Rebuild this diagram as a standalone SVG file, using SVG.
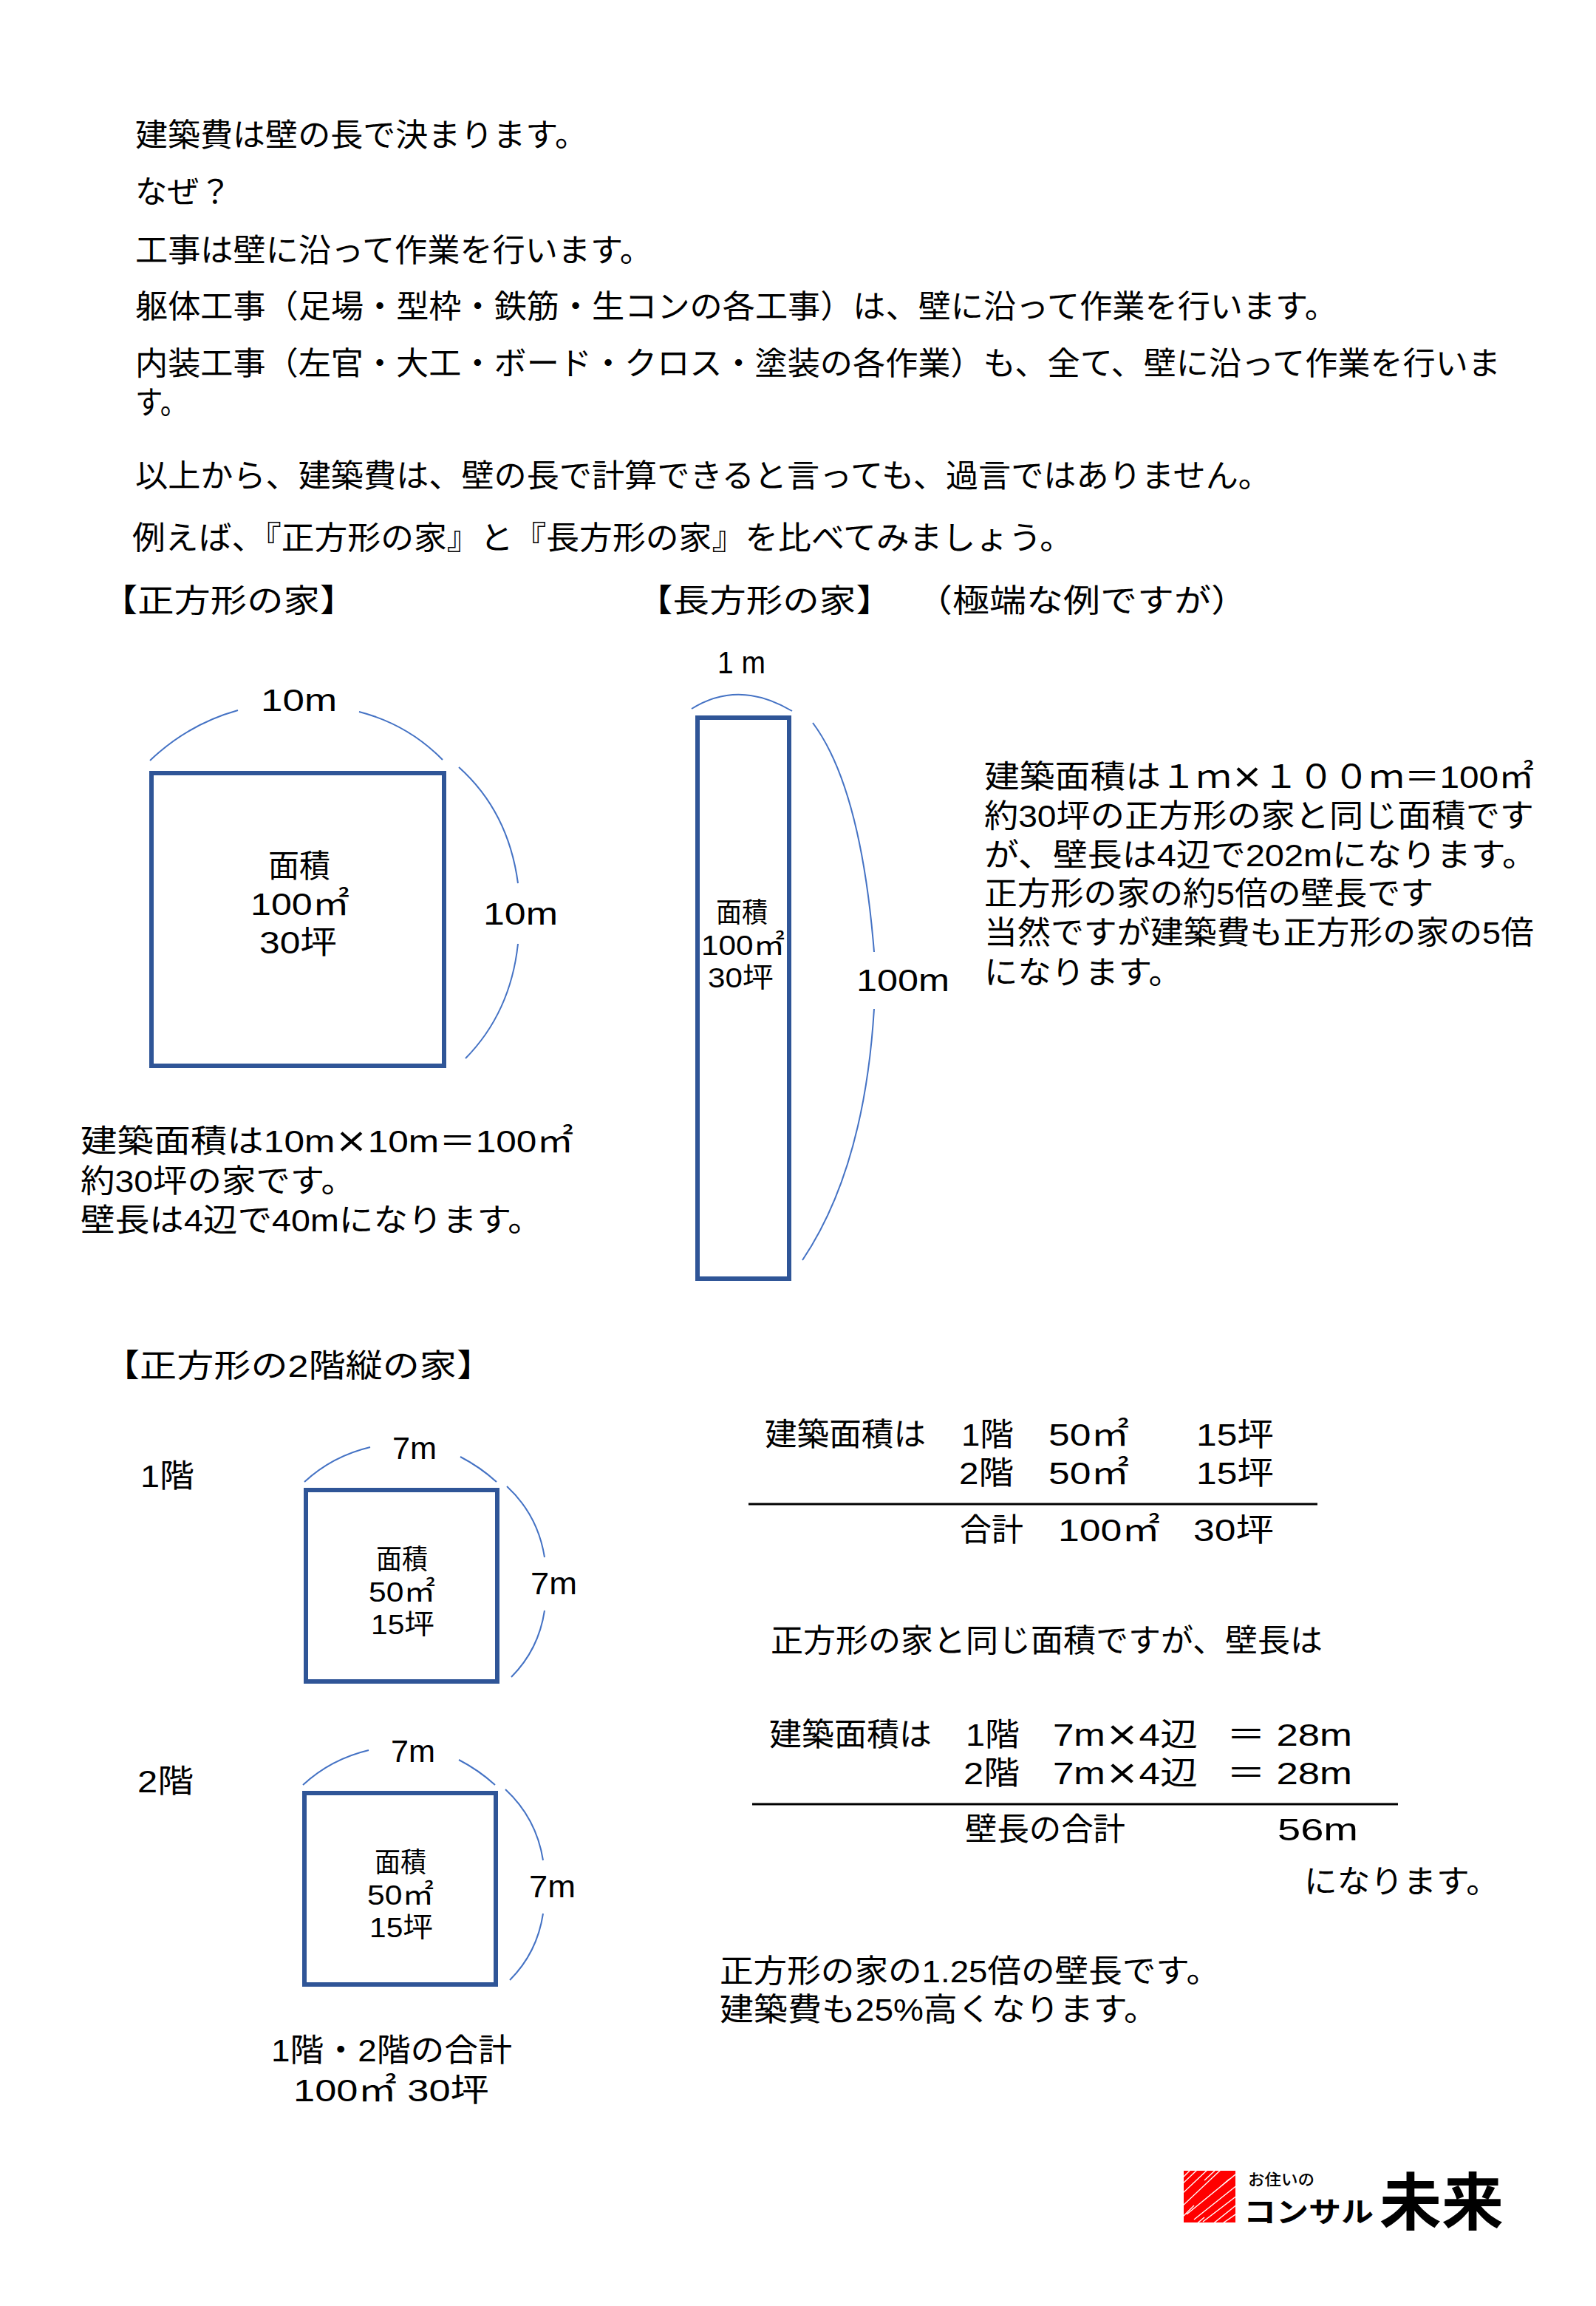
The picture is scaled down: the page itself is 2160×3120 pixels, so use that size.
<svg xmlns="http://www.w3.org/2000/svg" width="2160" height="3120" viewBox="0 0 2160 3120">
<style>
text{font-family:"Liberation Sans","Noto Sans CJK JP",sans-serif;font-size:43px;fill:#000}
.c{font-family:"Noto Sans CJK JP",sans-serif}
tspan{font-family:"DejaVu Sans",sans-serif;font-size:46px}
.in{font-size:37px}
.house{fill:#fff;stroke:#2F5597;stroke-width:6}
.arc{fill:none;stroke:#4472C4;stroke-width:2}
.rule{stroke:#000;stroke-width:3}
</style>
<defs><clipPath id="logoClip"><rect x="1602" y="2937" width="70" height="70"/></clipPath></defs>
<rect width="2160" height="3120" fill="#fff"/>
<g id="intro">
<text x="183" y="198" textLength="612" lengthAdjust="spacingAndGlyphs">建築費は壁の長で決まります。</text>
<text x="183" y="275" textLength="130" lengthAdjust="spacingAndGlyphs">なぜ？</text>
<text x="183" y="354" textLength="700" lengthAdjust="spacingAndGlyphs">工事は壁に沿って作業を行います。</text>
<text x="183" y="430" textLength="1627" lengthAdjust="spacingAndGlyphs">躯体工事（足場・型枠・鉄筋・生コンの各工事）は、壁に沿って作業を行います。</text>
<text x="183" y="507" textLength="1848" lengthAdjust="spacingAndGlyphs">内装工事（左官・大工・ボード・クロス・塗装の各作業）も、全て、壁に沿って作業を行いま</text>
<text x="183" y="560" textLength="71" lengthAdjust="spacingAndGlyphs">す。</text>
<text x="183" y="659" textLength="1537" lengthAdjust="spacingAndGlyphs">以上から、建築費は、壁の長で計算できると言っても、過言ではありません。</text>
<text x="179" y="743" textLength="1273" lengthAdjust="spacingAndGlyphs">例えば、『正方形の家』と『長方形の家』を比べてみましょう。</text>
<text x="137" y="828" textLength="345" lengthAdjust="spacingAndGlyphs">【正方形の家】</text>
<text x="861" y="828" textLength="347" lengthAdjust="spacingAndGlyphs">【長方形の家】</text>
<text x="1239" y="828" textLength="450" lengthAdjust="spacingAndGlyphs">（極端な例ですが）</text>
</g>
<g id="connectors">
<path class="arc" d="M203 1029Q254 980 322 961"/>
<path class="arc" d="M486 963Q552 980 599 1028"/>
<path class="arc" d="M621 1038Q688 1098 701 1195"/>
<path class="arc" d="M701 1277Q691 1370 630 1432"/>
<path class="arc" d="M936 959Q1000 919 1072 962"/>
<path class="arc" d="M1100 978Q1165 1065 1183 1288"/>
<path class="arc" d="M1183 1365Q1170 1580 1086 1705"/>
<path class="arc" d="M412 2005Q450 1970 501 1958"/>
<path class="arc" d="M623 1971Q650 1985 672 2005"/>
<path class="arc" d="M686 2011Q728 2050 737 2107"/>
<path class="arc" d="M737 2179Q729 2232 692 2269"/>
<path class="arc" d="M410 2415Q448 2380 499 2368"/>
<path class="arc" d="M621 2381Q648 2395 670 2415"/>
<path class="arc" d="M684 2421Q726 2460 735 2517"/>
<path class="arc" d="M735 2589Q727 2642 690 2679"/>
<line class="rule" x1="1013" y1="2035" x2="1783" y2="2035"/>
<line class="rule" x1="1018" y1="2441" x2="1892" y2="2441"/>
</g>
<g id="square-house">
<rect class="house" x="205" y="1046" width="396" height="396"/>
<text x="363" y="1187" textLength="84" lengthAdjust="spacingAndGlyphs">面積</text>
<text x="339" y="1238" textLength="134" lengthAdjust="spacingAndGlyphs">100㎡</text>
<text x="351" y="1290" textLength="105" lengthAdjust="spacingAndGlyphs">30坪</text>
<text x="353" y="962" textLength="103" lengthAdjust="spacingAndGlyphs">10m</text>
<text x="654" y="1251" textLength="101" lengthAdjust="spacingAndGlyphs">10m</text>
<text x="109" y="1559" textLength="667" lengthAdjust="spacingAndGlyphs">建築面積は10m<tspan>×</tspan>10m＝100㎡</text>
<text x="109" y="1613" textLength="372" lengthAdjust="spacingAndGlyphs">約30坪の家です。</text>
<text x="109" y="1666" textLength="625" lengthAdjust="spacingAndGlyphs">壁長は4辺で40mになります。</text>
</g>
<g id="long-house">
<rect class="house" x="944" y="971" width="124" height="759"/>
<text class="in" x="969" y="1248" textLength="70" lengthAdjust="spacingAndGlyphs">面積</text>
<text class="in" x="949" y="1292" textLength="113" lengthAdjust="spacingAndGlyphs">100㎡</text>
<text class="in" x="958" y="1336" textLength="89" lengthAdjust="spacingAndGlyphs">30坪</text>
<text x="971" y="911" textLength="65" lengthAdjust="spacingAndGlyphs">1 m</text>
<text x="1159" y="1341" textLength="126" lengthAdjust="spacingAndGlyphs">100m</text>
<text x="1332" y="1066" textLength="744" lengthAdjust="spacingAndGlyphs">建築面積は１ｍ<tspan>×</tspan>１００ｍ＝100㎡</text>
<text x="1332" y="1119" textLength="744" lengthAdjust="spacingAndGlyphs">約30坪の正方形の家と同じ面積です</text>
<text x="1332" y="1172" textLength="748" lengthAdjust="spacingAndGlyphs">が、壁長は4辺で202mになります。</text>
<text x="1332" y="1224" textLength="608" lengthAdjust="spacingAndGlyphs">正方形の家の約5倍の壁長です</text>
<text x="1332" y="1277" textLength="744" lengthAdjust="spacingAndGlyphs">当然ですが建築費も正方形の家の5倍</text>
<text x="1332" y="1331" textLength="268" lengthAdjust="spacingAndGlyphs">になります。</text>
</g>
<g id="two-storey-heading"><text x="139" y="1863" textLength="529" lengthAdjust="spacingAndGlyphs">【正方形の2階縦の家】</text></g>
<g id="floor-1">
<text x="190" y="2012" textLength="73" lengthAdjust="spacingAndGlyphs">1階</text>
<rect class="house" x="414" y="2016" width="259" height="259"/>
<text class="in" x="509" y="2123" textLength="70" lengthAdjust="spacingAndGlyphs">面積</text>
<text class="in" x="499" y="2167" textLength="90" lengthAdjust="spacingAndGlyphs">50㎡</text>
<text class="in" x="502" y="2211" textLength="86" lengthAdjust="spacingAndGlyphs">15坪</text>
<text x="531" y="1974" textLength="60" lengthAdjust="spacingAndGlyphs">7m</text>
<text x="718" y="2157" textLength="63" lengthAdjust="spacingAndGlyphs">7m</text>
</g>
<g id="floor-2">
<text x="186" y="2425" textLength="76" lengthAdjust="spacingAndGlyphs">2階</text>
<rect class="house" x="412" y="2426" width="259" height="259"/>
<text class="in" x="507" y="2533" textLength="70" lengthAdjust="spacingAndGlyphs">面積</text>
<text class="in" x="497" y="2577" textLength="90" lengthAdjust="spacingAndGlyphs">50㎡</text>
<text class="in" x="500" y="2621" textLength="86" lengthAdjust="spacingAndGlyphs">15坪</text>
<text x="529" y="2384" textLength="60" lengthAdjust="spacingAndGlyphs">7m</text>
<text x="716" y="2567" textLength="63" lengthAdjust="spacingAndGlyphs">7m</text>
<text x="367" y="2789" textLength="326" lengthAdjust="spacingAndGlyphs">1階・2階の合計</text>
<text x="397" y="2843" textLength="265" lengthAdjust="spacingAndGlyphs">100㎡ 30坪</text>
</g>
<g id="area-table">
<text x="1035" y="1956" textLength="218" lengthAdjust="spacingAndGlyphs">建築面積は</text>
<text x="1301" y="1956" textLength="71" lengthAdjust="spacingAndGlyphs">1階</text>
<text x="1419" y="1956" textLength="109" lengthAdjust="spacingAndGlyphs">50㎡</text>
<text x="1619" y="1956" textLength="105" lengthAdjust="spacingAndGlyphs">15坪</text>
<text x="1298" y="2008" textLength="74" lengthAdjust="spacingAndGlyphs">2階</text>
<text x="1419" y="2008" textLength="109" lengthAdjust="spacingAndGlyphs">50㎡</text>
<text x="1619" y="2008" textLength="105" lengthAdjust="spacingAndGlyphs">15坪</text>
<text x="1299" y="2085" textLength="86" lengthAdjust="spacingAndGlyphs">合計</text>
<text x="1432" y="2085" textLength="138" lengthAdjust="spacingAndGlyphs">100㎡</text>
<text x="1615" y="2085" textLength="109" lengthAdjust="spacingAndGlyphs">30坪</text>
</g>
<g id="wall-table">
<text x="1043" y="2235" textLength="747" lengthAdjust="spacingAndGlyphs">正方形の家と同じ面積ですが、壁長は</text>
<text x="1041" y="2362" textLength="220" lengthAdjust="spacingAndGlyphs">建築面積は</text>
<text x="1307" y="2362" textLength="73" lengthAdjust="spacingAndGlyphs">1階</text>
<text x="1425" y="2362" textLength="196" lengthAdjust="spacingAndGlyphs">7m<tspan>×</tspan>4辺</text>
<text x="1660" y="2362" textLength="170" lengthAdjust="spacingAndGlyphs">＝ 28m</text>
<text x="1304" y="2414" textLength="76" lengthAdjust="spacingAndGlyphs">2階</text>
<text x="1425" y="2414" textLength="196" lengthAdjust="spacingAndGlyphs">7m<tspan>×</tspan>4辺</text>
<text x="1660" y="2414" textLength="170" lengthAdjust="spacingAndGlyphs">＝ 28m</text>
<text x="1306" y="2490" textLength="217" lengthAdjust="spacingAndGlyphs">壁長の合計</text>
<text x="1729" y="2490" textLength="109" lengthAdjust="spacingAndGlyphs">56m</text>
<text x="1765" y="2561" textLength="264" lengthAdjust="spacingAndGlyphs">になります。</text>
<text x="974" y="2682" textLength="677" lengthAdjust="spacingAndGlyphs">正方形の家の1.25倍の壁長です。</text>
<text x="974" y="2734" textLength="593" lengthAdjust="spacingAndGlyphs">建築費も25%高くなります。</text>
</g>
<g id="logo">
<rect x="1602" y="2937" width="70" height="70" fill="#f00"/>
<g clip-path="url(#logoClip)" stroke="#fff" stroke-width="1.4" fill="none">
<path d="M1600 2955L1620 2936M1600 2968L1636 2934M1600 2985L1654 2934M1606 2996L1672 2942M1616 3003L1675 2956M1628 3006L1675 2970M1640 3010L1675 2982M1652 3010L1675 2994M1600 2947L1610 2937M1600 3000L1616 2984M1618 3010L1630 3000M1644 2937L1630 2950M1664 2948L1650 2960"/>
</g>
<text class="c" x="1689" y="2956" style="font-size:21px;font-weight:500" textLength="90" lengthAdjust="spacingAndGlyphs">お住いの</text>
<text class="c" x="1683" y="3006" textLength="176" lengthAdjust="spacingAndGlyphs" style="font-size:38px;font-weight:700">コンサル</text>
<text class="c" x="1867" y="3010" textLength="168" lengthAdjust="spacingAndGlyphs" style="font-size:84px;font-weight:700">未来</text>
</g>
</svg>
